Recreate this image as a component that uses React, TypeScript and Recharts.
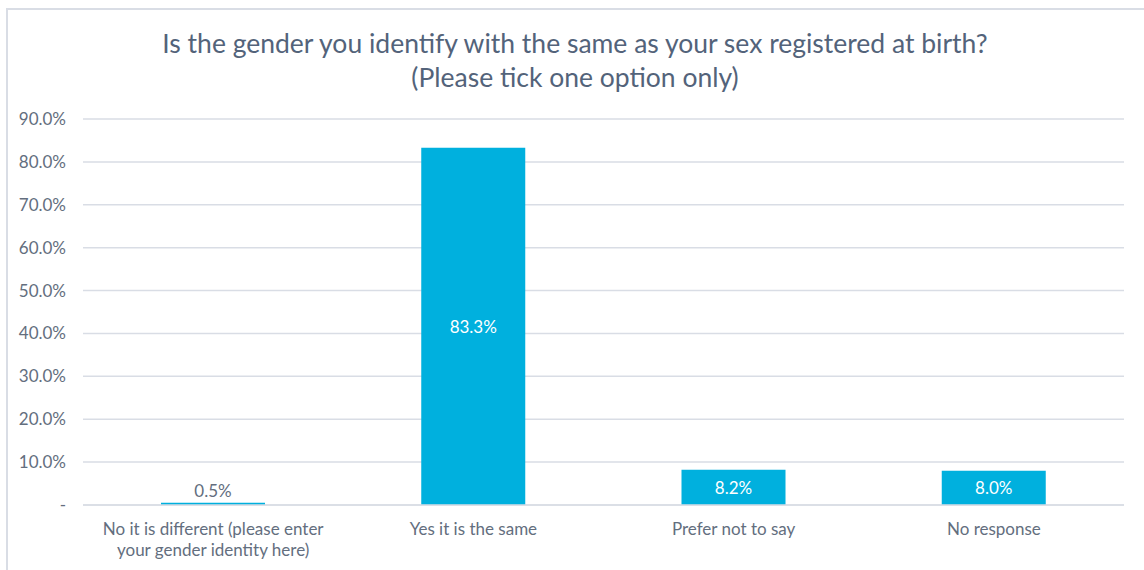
import React from "react";
import {
  BarChart,
  Bar,
  XAxis,
  YAxis,
  CartesianGrid,
  LabelList,
} from "recharts";

const categories = [
  "No it is different (please enter your gender identity here)",
  "Yes it is the same",
  "Prefer not to say",
  "No response",
];
const shares = [0.5, 83.3, 8.2, 8.0];
const yTicks = [0, 10, 20, 30, 40, 50, 60, 70, 80, 90];
const titleLines = [
  "Is the gender you identify with the same as your sex registered at birth?",
  "(Please tick one option only)",
];

const FONT = "Lato, 'Open Sans', sans-serif";
const TEXT_GREY = "#636e7e";
const BAR_BLUE = "#00b0de";

const chartData = categories.map((name, i) => ({ name, value: shares[i] }));

const fmtTick = (v: number) => (v === 0 ? "-" : `${v.toFixed(1)}%`);

// split a label into lines of at most maxChars characters
function wrapWords(label: string, maxChars: number) {
  const lines: string[] = [];
  let cur = "";
  label.split(" ").forEach((w) => {
    const next = cur ? cur + " " + w : w;
    if (next.length > maxChars && cur) {
      lines.push(cur);
      cur = w;
    } else {
      cur = next;
    }
  });
  if (cur) lines.push(cur);
  return lines;
}

function CategoryTick(props: any) {
  const { x, y, payload } = props;
  const lines = wrapWords(String(payload.value), 33);
  return (
    <text
      x={x}
      y={y + 22}
      textAnchor="middle"
      fill={TEXT_GREY}
      fontSize={17}
      fontFamily={FONT}
    >
      {lines.map((l, i) => (
        <tspan key={i} x={x} dy={i === 0 ? 0 : 21}>
          {l}
        </tspan>
      ))}
    </text>
  );
}

function ValueLabel(props: any) {
  const { x, y, width, height, value } = props;
  const small = value < 2;
  return (
    <text
      x={x + width / 2}
      y={small ? y - 12 : y + height / 2}
      textAnchor="middle"
      dominantBaseline="central"
      fill={small ? TEXT_GREY : "#ffffff"}
      fontSize={17}
      fontFamily={FONT}
    >
      {`${value.toFixed(1)}%`}
    </text>
  );
}

export default function App() {
  return (
    <div
      style={{
        position: "absolute",
        left: 0,
        top: 0,
        width: 1144,
        height: 570,
        overflow: "hidden",
        background: "#fff",
        fontFamily: FONT,
      }}
    >
      {/* chart frame, open to the right and bottom */}
      <div
        style={{
          position: "absolute",
          left: 6,
          top: 8,
          width: 1160,
          height: 600,
          border: "2px solid #d9dde5",
        }}
      />
      <div
        style={{
          position: "absolute",
          left: 0,
          top: 26,
          width: 1150,
          textAlign: "center",
          color: "#53637a",
          fontSize: 26.5,
          lineHeight: "34px",
        }}
      >
        {titleLines.map((t) => (
          <div key={t}>{t}</div>
        ))}
      </div>
      <div style={{ position: "absolute", left: 0, top: 0 }}>
        <BarChart
          width={1144}
          height={570}
          data={chartData}
          margin={{ top: 119, right: 20, bottom: 0, left: 0 }}
        >
          <CartesianGrid
            vertical={false}
            stroke="#d9dde5"
            strokeWidth={1.5}
          />
          <XAxis
            dataKey="name"
            height={65}
            axisLine={{ stroke: "#d9dde5", strokeWidth: 1.5 }}
            tickLine={false}
            interval={0}
            tick={<CategoryTick />}
          />
          <YAxis
            width={83}
            domain={[0, 90]}
            ticks={yTicks}
            tickFormatter={fmtTick}
            axisLine={false}
            tickLine={false}
            tickMargin={11}
            tick={{ fill: TEXT_GREY, fontSize: 17, fontFamily: FONT }}
          />
          <Bar
            dataKey="value"
            fill={BAR_BLUE}
            barSize={104}
            isAnimationActive={false}
          >
            <LabelList dataKey="value" content={<ValueLabel />} />
          </Bar>
        </BarChart>
      </div>
    </div>
  );
}
